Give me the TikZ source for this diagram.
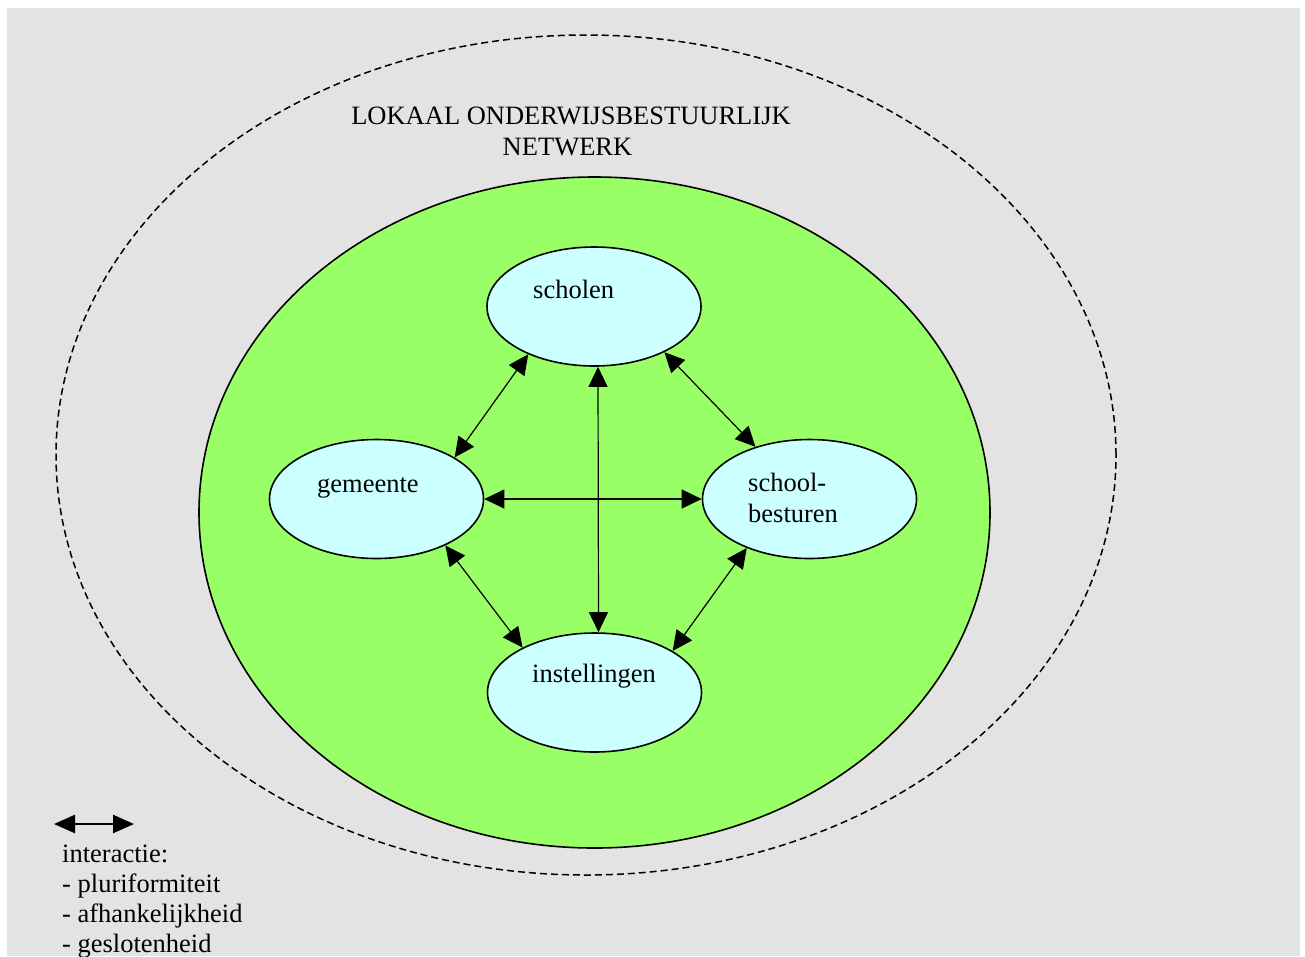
\documentclass[tikz,border=0pt]{standalone}
\usepackage{fontspec}
\setmainfont{Liberation Serif}
\usetikzlibrary{arrows.meta,shapes.geometric}
\definecolor{bggray}{HTML}{E3E3E3}
\definecolor{netgreen}{HTML}{99FF66}
\definecolor{actorcyan}{HTML}{CCFFFF}
\begin{document}
\begin{tikzpicture}[x=1pt,y=-1pt,
  txt/.style={font=\fontsize{26.5}{30}\selectfont, inner sep=0pt, anchor=base west},
  txtc/.style={font=\fontsize{26.5}{30}\selectfont, inner sep=0pt, anchor=base},
  actor/.style={ellipse, draw, line width=1.6pt, fill=actorcyan, minimum width=214pt, minimum height=119pt, inner sep=0pt},
  link/.style={{Triangle[length=20pt,width=19pt]}-{Triangle[length=20pt,width=19pt]}, line width=1.2pt},
  legendarrow/.style={{Triangle[length=21pt,width=18pt]}-{Triangle[length=21pt,width=18pt]}, line width=2.4pt}]
\useasboundingbox (0,0) rectangle (1305,956);
\fill[bggray] (7,8) rectangle (1300,956);
% outer dashed network boundary
\node[ellipse, draw, line width=1.5pt, dash pattern=on 7pt off 4pt, minimum width=1060pt, minimum height=840pt, inner sep=0pt] (net) at (586,455) {};
% green core
\node[ellipse, draw, line width=1.6pt, fill=netgreen, minimum width=791pt, minimum height=671pt, inner sep=0pt] (core) at (594.5,512.5) {};
% title
\node[txtc] (title1) at (571,124) {LOKAAL ONDERWIJSBESTUURLIJK};
\node[txtc] (title2) at (567.5,155) {NETWERK};
% actors
\node[actor] (scholen) at (594,306.5) {};
\node[actor] (gemeente) at (376.5,499) {};
\node[actor] (besturen) at (809.5,499) {};
\node[actor] (instellingen) at (594.5,692.5) {};
\node[txt] (tscholen) at (533,298) {scholen};
\node[txt] (tgemeente) at (317,492) {gemeente};
\node[txt] (tschool) at (748,491) {school-};
\node[txt] (tbesturen) at (748,522) {besturen};
\node[txt] (tinstellingen) at (532,682) {instellingen};
% interactions
\draw[link] (scholen.216.5) -- (gemeente.28.2);
\draw[link] (scholen.327.6) -- (besturen.136.3);
\draw[link] ([xshift=4pt]scholen.south) -- ([xshift=4pt]instellingen.north);
\draw[link] (gemeente.east) -- (besturen.west);
\draw[link] (gemeente.326.5) -- (instellingen.148.2);
\draw[link] (besturen.218.9) -- (instellingen.28.3);
% legend
\coordinate (la) at (54,824);
\coordinate (lb) at (134,824);
\draw[legendarrow] (la) -- (lb);
\node[txt] (l1) at (62,862) {interactie:};
\node[txt] (l2) at (62,892) {- pluriformiteit};
\node[txt] (l3) at (62,922) {- afhankelijkheid};
\node[txt] (l4) at (62,952) {- geslotenheid};
\end{tikzpicture}
\end{document}
